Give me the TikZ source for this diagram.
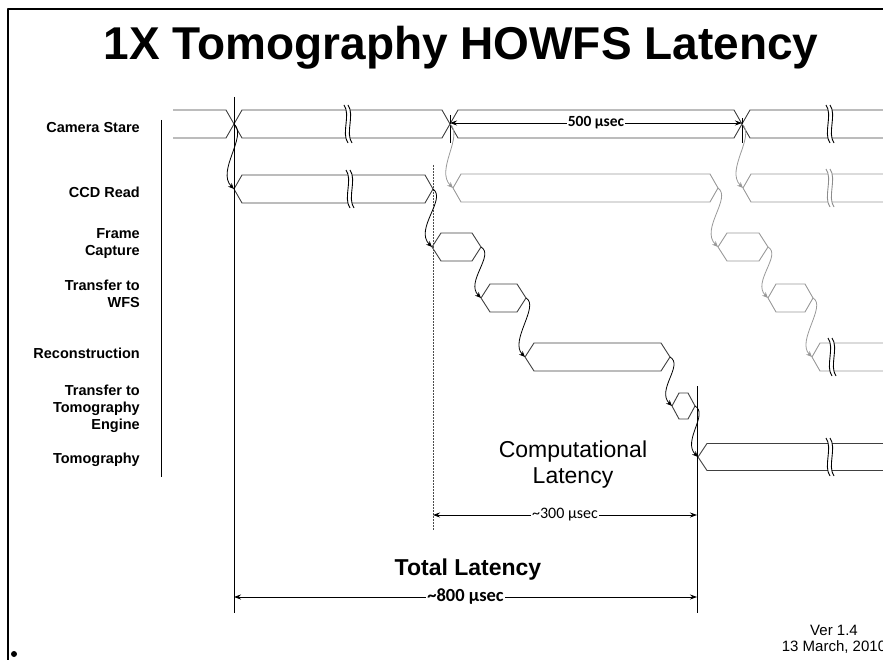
\documentclass[tikz,border=0pt]{standalone}
\usepackage{fontspec}
\setmainfont{Liberation Sans}
\newfontfamily\calib{Carlito}
\usetikzlibrary{arrows.meta}

\newcommand\hexc[6]{%
  \draw[#6] (#1,#3) -- ({#1+#5},{#3-#4}) -- ({#2-#5},{#3-#4}) -- (#2,#3) -- ({#2-#5},{#3+#4}) -- ({#1+#5},{#3+#4}) -- cycle;}
\newcommand\openc[6]{%
  \draw[#6] (#2,{#3-#4}) -- ({#1+#5},{#3-#4}) -- (#1,#3) -- ({#1+#5},{#3+#4}) -- (#2,{#3+#4});}
\newcommand\brkz[3]{%
  \fill[white] ({#1-4},{#2-19}) .. controls ({#1+3},{#2-9}) and ({#1-7},{#2+9}) .. (#1,{#2+19})
     -- ({#1+4},{#2+19}) .. controls ({#1-3},{#2+9}) and ({#1+7},{#2-9}) .. (#1,{#2-19}) -- cycle;
  \draw[#3] ({#1-4},{#2-19}) .. controls ({#1+3},{#2-9}) and ({#1-7},{#2+9}) .. (#1,{#2+19});
  \draw[#3] (#1,{#2-19}) .. controls ({#1+7},{#2-9}) and ({#1-3},{#2+9}) .. ({#1+4},{#2+19});}

\begin{document}
\begin{tikzpicture}[x=1pt,y=-1pt,line join=round,
  sig/.style={draw=black!75,line width=0.9pt},
  gsig/.style={draw=black!40,line width=0.9pt},
  brk/.style={black,line width=0.9pt},
  gbrk/.style={black!45,line width=0.9pt},
  conn/.style={black,line width=0.8pt,-{Stealth[length=6pt,width=5pt]}},
  gconn/.style={black!40,line width=0.8pt,-{Stealth[length=6pt,width=5pt]}},
  dim/.style={black,line width=0.8pt,{Stealth[length=7pt,width=5pt]}-{Stealth[length=7pt,width=5pt]}},
  vline/.style={black,line width=0.8pt},
  rowlab/.style={font=\fontsize{14.5}{17}\selectfont\bfseries,align=right,inner sep=0pt},
]
\useasboundingbox (0,0) rectangle (883,660);

% frame
\draw[line width=2.5pt] (8,660) -- (8,9) -- (890,9);
\fill (14,654) circle (3);

% title
\node[font=\fontsize{46}{50}\selectfont\bfseries,anchor=base,inner sep=0pt] (title) at (461,60) {1X Tomography HOWFS Latency};

% row labels
\node[rowlab,anchor=base east] (lcs) at (140,133) {Camera Stare};
\node[rowlab,anchor=base east] (lccd) at (140,198) {CCD Read};
\node[rowlab,anchor=north east] (lfc) at (140,228) {Frame\\Capture};
\node[rowlab,anchor=north east] (ltw) at (140,280) {Transfer to\\WFS};
\node[rowlab,anchor=base east] (lrc) at (140,358) {Reconstruction};
\node[rowlab,anchor=north east] (ltt) at (140,385) {Transfer to\\Tomography\\Engine};
\node[rowlab,anchor=base east] (ltm) at (140,463) {Tomography};
\draw[vline] (161,120) -- (161,477);

% coordinates
\coordinate (cs1) at (234,124);
\coordinate (cs2) at (450,124);
\coordinate (cs3) at (742,124);
\coordinate (ccdL) at (234,189);
\coordinate (ccdR) at (433,189);
\coordinate (fcL) at (432,247);
\coordinate (fcR) at (481,247);
\coordinate (twL) at (481,298);
\coordinate (twR) at (526,298);
\coordinate (rcL) at (525,357);
\coordinate (rcR) at (670,357);
\coordinate (ttL) at (672,406);
\coordinate (ttR) at (695,406);
\coordinate (tmL) at (698,457);
\coordinate (gccdL) at (453,188);
\coordinate (gccdR) at (718,188);
\coordinate (g3L) at (743,188);
\coordinate (gfcL) at (718,247);
\coordinate (gfcR) at (768,247);
\coordinate (gtwL) at (768,298);
\coordinate (gtwR) at (813,298);
\coordinate (grcL) at (812,357);

% camera stare
\draw[sig] (173,110) -- (226,110) -- (242,138) -- (442,138) -- (458,110) -- (734,110) -- (750,138) -- (883,138);
\draw[sig] (173,138) -- (226,138) -- (242,110) -- (442,110) -- (458,138) -- (734,138) -- (750,110) -- (883,110);
\brkz{348}{124}{brk}
\brkz{830}{124}{brk}

% black cells
\hexc{234}{433}{189}{14}{8}{sig}
\brkz{350}{189}{brk}
\hexc{432}{481}{247}{14}{9}{sig}
\hexc{481}{526}{298}{14}{9}{sig}
\hexc{525}{670}{357}{14}{9}{sig}
\hexc{672}{695}{406}{13}{7}{sig}
\openc{698}{883}{457}{13.5}{9}{sig}
\brkz{830}{457}{brk}

% grey cells
\hexc{453}{718}{188}{14}{8}{gsig}
\openc{743}{883}{188}{14}{8}{gsig}
\brkz{830}{188}{gbrk}
\hexc{718}{768}{247}{14}{9}{gsig}
\hexc{768}{813}{298}{14}{8}{gsig}
\openc{812}{883}{357}{14}{8}{gsig}
\brkz{832}{357}{brk}

% vertical markers
\draw[vline] (234,97) -- (234,613);
\draw[black!70,line width=0.9pt,dash pattern=on 2pt off 1pt] (433,165) -- (433,530);
\draw[vline] (697,386) -- (697,613);
\draw[vline] (450,115) -- (450,143);
\draw[vline] (742,118) -- (742,143);

% connectors
\draw[conn] (cs1) .. controls +(14,12) and +(-18,-18) .. (ccdL);
\draw[conn] (ccdR) .. controls +(14,10) and +(-18,-18) .. (fcL);
\draw[conn] (fcR) .. controls +(14,8) and +(-16,-16) .. (twL);
\draw[conn] (twR) .. controls +(14,8) and +(-16,-16) .. (rcL);
\draw[conn] (rcR) .. controls +(14,8) and +(-16,-16) .. (ttL);
\draw[conn] (ttR) .. controls +(14,8) and +(-16,-16) .. (tmL);
\draw[gconn] (cs2) .. controls +(14,12) and +(-18,-18) .. (gccdL);
\draw[gconn] (cs3) .. controls +(14,12) and +(-18,-18) .. (g3L);
\draw[gconn] (gccdR) .. controls +(14,10) and +(-18,-18) .. (gfcL);
\draw[gconn] (gfcR) .. controls +(14,8) and +(-16,-16) .. (gtwL);
\draw[gconn] (gtwR) .. controls +(14,8) and +(-16,-16) .. (grcL);

% dimensions
\coordinate (d5L) at (450,123);
\coordinate (d5R) at (742,123);
\draw[dim] (d5L) -- (d5R) node[midway,fill=white,inner sep=1pt,font=\calib\fontsize{15.5}{16}\selectfont\bfseries] (t500) {500 µsec};
\coordinate (d3L) at (433,515);
\coordinate (d3R) at (697,515);
\draw[dim] (d3L) -- (d3R) node[midway,fill=white,inner sep=1pt,font=\calib\fontsize{16}{17}\selectfont] (t300) {\textasciitilde300 µsec};
\coordinate (d8L) at (234,597);
\coordinate (d8R) at (697,597);
\draw[dim] (d8L) -- (d8R) node[midway,fill=white,inner sep=1pt,font=\calib\fontsize{18.5}{19}\selectfont\bfseries] (t800) {\textasciitilde800 µsec};

% texts
\node[font=\fontsize{23}{26}\selectfont,align=center,anchor=north,inner sep=0pt] (comp) at (573,441) {Computational\\Latency};
\node[font=\fontsize{23}{26}\selectfont\bfseries,anchor=base,inner sep=0pt] (total) at (468,575) {Total Latency};
\node[font=\fontsize{15}{16}\selectfont,align=center,anchor=north,inner sep=0pt] (ver) at (834,625) {Ver 1.4\\13 March, 2010};
\end{tikzpicture}
\end{document}
